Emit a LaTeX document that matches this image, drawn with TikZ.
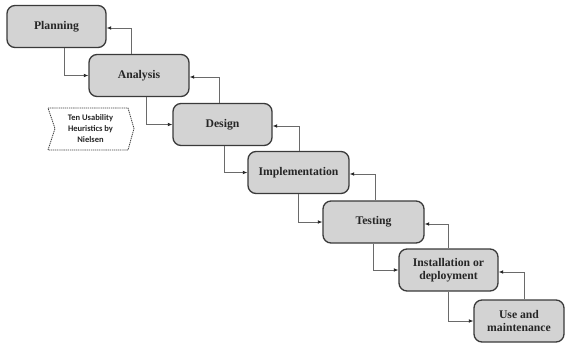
\documentclass[tikz,border=0pt]{standalone}
\usepackage{fontspec}
\setmainfont{Liberation Serif}
\newfontfamily\notefont{Carlito}
\usetikzlibrary{arrows.meta}
\definecolor{boxfill}{HTML}{D3D3D3}
\definecolor{boxline}{HTML}{3A3A3A}
\definecolor{wire}{HTML}{6A6A6A}
\begin{document}
\begin{tikzpicture}[x=1pt,y=-1pt,
  phase/.style={draw=boxline, line width=1.3pt, fill=boxfill, rounded corners=8pt,
    minimum height=42pt, inner sep=2pt, align=center, text=black!85,
    font=\fontsize{11.7}{13}\selectfont\bfseries},
  link/.style={draw=wire, line width=0.8pt,
    -{Latex[length=4.5pt,width=3.8pt,color=black!85]}},
  note/.style={draw=black!75, line width=0.8pt, dash pattern=on 1.3pt off 0.8pt, fill=white}
]
\useasboundingbox (0,0) rectangle (567,343);

% phases of the life cycle
\node[phase, minimum width=99pt]  (plan)   at (56.5,26.5) {Planning};
\node[phase, minimum width=100pt] (anal)   at (139,75.5)  {Analysis};
\node[phase, minimum width=99pt]  (design) at (222.5,124.5) {Design};
\node[phase, minimum width=101pt] (impl)   at (298.5,172.5) {Implementation};
\node[phase, minimum width=101pt] (test)   at (373.5,222) {Testing};
\node[phase, minimum width=99pt]  (inst)   at (448.5,270) {Installation or\\deployment};
\node[phase, minimum width=90pt]  (use)    at (519,321) {Use and\\maintenance};

% downward flow
\draw[link] ([xshift=7.5pt]plan.south)  |- (anal.west);
\draw[link] ([xshift=7pt]anal.south)    |- (design.west);
\draw[link] ([xshift=1.5pt]design.south) |- (impl.west);
\draw[link] (impl.south)                |- (test.west);
\draw[link] ([xshift=-0.5pt]test.south) |- (inst.west);
\draw[link] (inst.south)                |- (use.west);

% feedback to the previous phase
\draw[link] ([xshift=-8pt]anal.north)    |- ([yshift=-1.5pt]plan.east);
\draw[link] ([xshift=-3.5pt]design.north) |- ([yshift=-1.5pt]anal.east);
\draw[link] ([xshift=0.5pt]impl.north)   |- ([yshift=-1.5pt]design.east);
\draw[link] ([xshift=1.5pt]test.north)   |- ([yshift=-1.5pt]impl.east);
\draw[link] ([xshift=-0.5pt]inst.north)  |- ([yshift=-2pt]test.east);
\draw[link] ([xshift=5pt]use.north)      |- ([yshift=-2pt]inst.east);

% heuristics tag
\draw[note] (48,108) -- (128,108) -- (134,128.5) -- (128,150) -- (48,150) -- (55,128.5) -- cycle;
\node[align=center, inner sep=0pt, text=black!85, font=\notefont\fontsize{8.5}{11}\selectfont\bfseries]
  (heur) at (90.5,129) {Ten Usability\\Heuristics by\\Nielsen};
\end{tikzpicture}
\end{document}
